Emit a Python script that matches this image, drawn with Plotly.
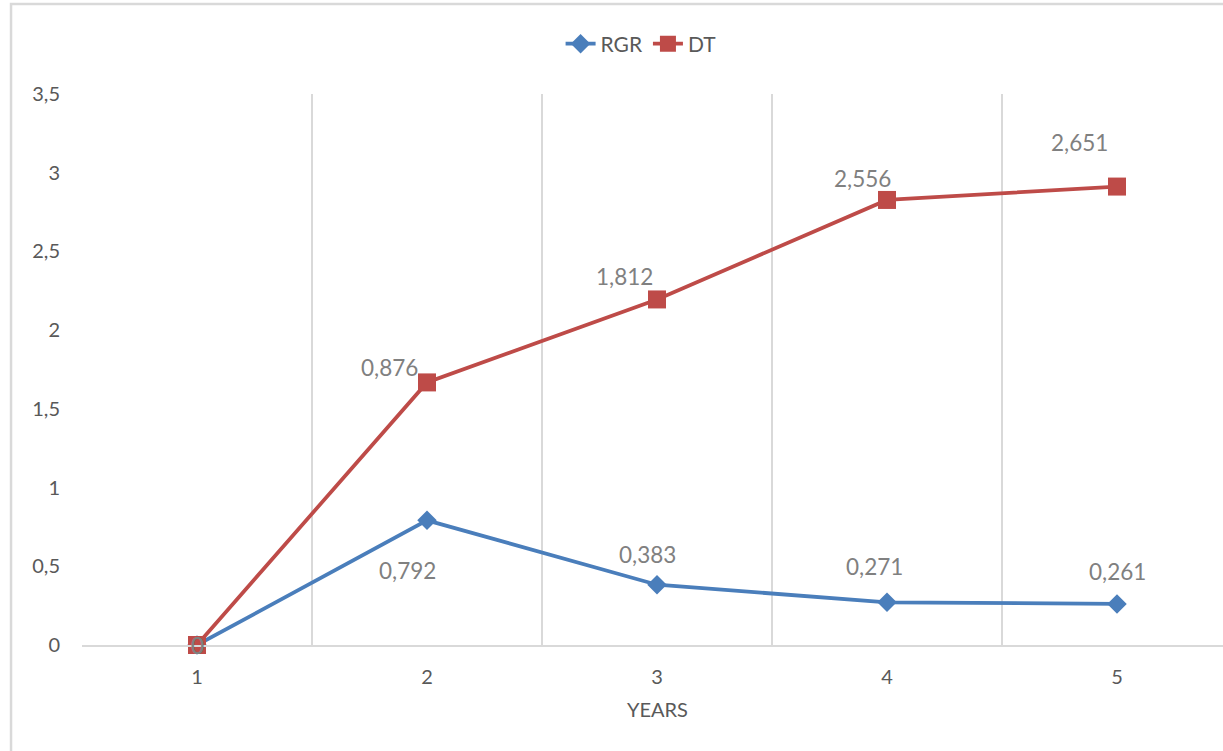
import plotly.graph_objects as go

# Growth indicators per year (DT is stacked on top of RGR)
years = [1, 2, 3, 4, 5]
rgr = [0, 0.792, 0.383, 0.271, 0.261]
dt = [0, 0.876, 1.812, 2.556, 2.651]
y_ticks = [0, 0.5, 1, 1.5, 2, 2.5, 3, 3.5]

# Label offsets (pixels) relative to each marker
rgr_dx = [0, -20, -10, -13, 0]
rgr_dy = [0, -50, 30, 36, 32]
dt_dx = [0, -38, -33, -25, -38]
dt_dy = [0, 15, 23, 21, 44]

BLUE = "#4a7ebb"
RED = "#be4b48"
GRID = "#d9d9d9"
TEXT = "#595959"
LABEL = "#808080"
FONT = "Lato"


def fmt(v):
    return f"{v:g}".replace(".", ",")


fig = go.Figure()
fig.add_trace(go.Scatter(
    x=years, y=rgr, name="RGR", mode="lines+markers",
    stackgroup="one", fill="none", cliponaxis=False,
    line=dict(color=BLUE, width=3.75),
    marker=dict(symbol="diamond", size=15, color=BLUE),
))
fig.add_trace(go.Scatter(
    x=years, y=dt, name="DT", mode="lines+markers",
    stackgroup="one", fill="none", cliponaxis=False,
    line=dict(color=RED, width=3.75),
    marker=dict(symbol="square", size=18, color=RED),
))

annotations = []
for i, x in enumerate(years):
    annotations.append(dict(
        x=x, y=rgr[i], xref="x", yref="y", text=fmt(rgr[i]),
        showarrow=False, xshift=rgr_dx[i], yshift=rgr_dy[i],
        font=dict(family=FONT, size=22.5, color=LABEL),
    ))
    annotations.append(dict(
        x=x, y=rgr[i] + dt[i], xref="x", yref="y", text=fmt(dt[i]),
        showarrow=False, xshift=dt_dx[i], yshift=dt_dy[i],
        font=dict(family=FONT, size=22.5, color=LABEL),
    ))

# Axis title centred under the middle category
annotations.append(dict(
    x=3, y=-0.116, xref="x", yref="paper", text="YEARS",
    showarrow=False, yanchor="middle",
    font=dict(family=FONT, size=20, color=TEXT),
))

fig.update_layout(
    width=1223, height=751,
    margin=dict(l=82, r=0, t=94, b=106),
    paper_bgcolor="white", plot_bgcolor="white",
    separators=", ",
    font=dict(family=FONT, size=20, color=TEXT),
    showlegend=True,
    legend=dict(
        orientation="h", x=0.49, xanchor="center", y=1.0907, yanchor="middle",
        traceorder="normal", font=dict(family=FONT, size=21, color=TEXT),
        itemwidth=30,
    ),
    xaxis=dict(
        range=[0.5, 0.5 + 1141 / 230],
        tickvals=years, ticktext=[str(v) for v in years],
        showgrid=False, zeroline=False,
        showline=True, linecolor=GRID, linewidth=2,
        ticks="", ticklabelstandoff=13,
        tickfont=dict(family=FONT, size=20, color=TEXT),
        minor=dict(tickvals=[0.5, 1.5, 2.5, 3.5, 4.5], showgrid=True,
                   gridcolor=GRID, gridwidth=1.5, ticks=""),
    ),
    yaxis=dict(
        range=[0, 3.5], tickvals=y_ticks,
        showgrid=False, zeroline=False, showline=False,
        ticks="", ticklabelstandoff=21,
        tickfont=dict(family=FONT, size=20, color=TEXT),
    ),
    annotations=annotations,
    shapes=[dict(
        type="rect", xref="paper", yref="paper",
        x0=-0.0622, x1=1.015, y0=-0.2087, y1=1.1633,
        line=dict(color=GRID, width=2.5), fillcolor="rgba(0,0,0,0)",
        layer="below",
    )],
)

fig.write_html("out.html")
